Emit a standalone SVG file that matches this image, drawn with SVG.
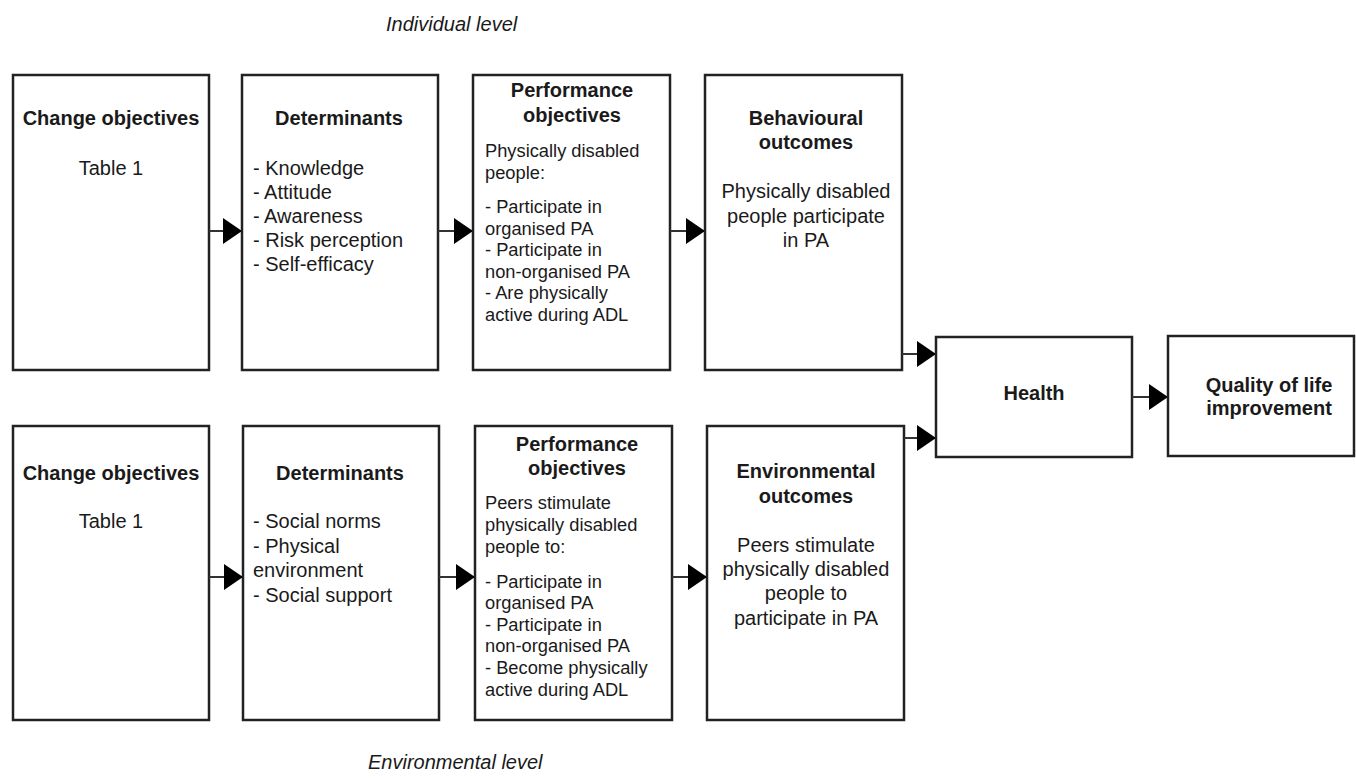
<svg xmlns="http://www.w3.org/2000/svg" width="1356" height="778" viewBox="0 0 1356 778">
<style>
.box{fill:#fff;stroke:#222;stroke-width:2.5}
.t{font-family:"Liberation Sans",Arial,sans-serif;fill:#1a1a1a}
.b{font-weight:bold;font-size:20px}
.r{font-size:20px}
.s{font-size:18.3px}
.c{text-anchor:middle}
.i{font-style:italic;font-size:20px}
.con line{stroke:#333;stroke-width:2}
</style>
<defs>
<marker id="ah" viewBox="0 0 19 26" refX="19" refY="13" markerWidth="19" markerHeight="26" markerUnits="userSpaceOnUse" orient="auto">
<path d="M0,0 L19,13 L0,26 z" fill="#000"/>
</marker>
</defs>
<rect width="1356" height="778" fill="#fff"/>
<text class="t i" x="386" y="31">Individual level</text>
<text class="t i" x="368" y="769">Environmental level</text>

<g id="co1">
<rect class="box" x="13" y="75" width="196" height="295"/>
<text class="t b c" x="111" y="125">Change objectives</text>
<text class="t r c" x="111" y="175">Table 1</text>
</g>
<g id="det1">
<rect class="box" x="242" y="75" width="196" height="295"/>
<text class="t b c" x="339" y="125">Determinants</text>
<text class="t r" x="253" y="175">- Knowledge</text>
<text class="t r" x="253" y="199">- Attitude</text>
<text class="t r" x="253" y="223">- Awareness</text>
<text class="t r" x="253" y="247">- Risk perception</text>
<text class="t r" x="253" y="271">- Self-efficacy</text>
</g>
<g id="po1">
<rect class="box" x="473" y="75" width="197" height="295"/>
<text class="t b c" x="572" y="97">Performance</text>
<text class="t b c" x="572" y="122">objectives</text>
<text class="t s" x="485" y="157">Physically disabled</text>
<text class="t s" x="485" y="178.5">people:</text>
<text class="t s" x="485" y="213">- Participate in</text>
<text class="t s" x="485" y="234.5">organised PA</text>
<text class="t s" x="485" y="256">- Participate in</text>
<text class="t s" x="485" y="277.5">non-organised PA</text>
<text class="t s" x="485" y="299">- Are physically</text>
<text class="t s" x="485" y="320.5">active during ADL</text>
</g>
<g id="bo1">
<rect class="box" x="705" y="75" width="197" height="295"/>
<text class="t b c" x="806" y="125">Behavioural</text>
<text class="t b c" x="806" y="149">outcomes</text>
<text class="t r c" x="806" y="198">Physically disabled</text>
<text class="t r c" x="806" y="222.5">people participate</text>
<text class="t r c" x="806" y="247">in PA</text>
</g>

<g id="co2">
<rect class="box" x="13" y="426" width="196" height="294"/>
<text class="t b c" x="111" y="480">Change objectives</text>
<text class="t r c" x="111" y="528">Table 1</text>
</g>
<g id="det2">
<rect class="box" x="243" y="426" width="196" height="294"/>
<text class="t b c" x="340" y="480">Determinants</text>
<text class="t r" x="253" y="528">- Social norms</text>
<text class="t r" x="253" y="553">- Physical</text>
<text class="t r" x="253" y="577">environment</text>
<text class="t r" x="253" y="602">- Social support</text>
</g>
<g id="po2">
<rect class="box" x="475" y="426" width="197" height="294"/>
<text class="t b c" x="577" y="451">Performance</text>
<text class="t b c" x="577" y="475">objectives</text>
<text class="t s" x="485" y="509">Peers stimulate</text>
<text class="t s" x="485" y="531">physically disabled</text>
<text class="t s" x="485" y="553">people to:</text>
<text class="t s" x="485" y="587.5">- Participate in</text>
<text class="t s" x="485" y="609">organised PA</text>
<text class="t s" x="485" y="630.5">- Participate in</text>
<text class="t s" x="485" y="652">non-organised PA</text>
<text class="t s" x="485" y="674">- Become physically</text>
<text class="t s" x="485" y="696">active during ADL</text>
</g>
<g id="eo2">
<rect class="box" x="707" y="426" width="197" height="294"/>
<text class="t b c" x="806" y="478">Environmental</text>
<text class="t b c" x="806" y="503">outcomes</text>
<text class="t r c" x="806" y="552">Peers stimulate</text>
<text class="t r c" x="806" y="576">physically disabled</text>
<text class="t r c" x="806" y="600">people to</text>
<text class="t r c" x="806" y="625">participate in PA</text>
</g>

<g id="health">
<rect class="box" x="936" y="337" width="196" height="120"/>
<text class="t b c" x="1034" y="400">Health</text>
</g>
<g id="qol">
<rect class="box" x="1168" y="336" width="186" height="120"/>
<text class="t b c" x="1269" y="392">Quality of life</text>
<text class="t b c" x="1269" y="415">improvement</text>
</g>

<g id="connectors" class="con">
<line x1="209" y1="231" x2="242" y2="231" marker-end="url(#ah)"/>
<line x1="438" y1="231" x2="473" y2="231" marker-end="url(#ah)"/>
<line x1="670" y1="231" x2="705" y2="231" marker-end="url(#ah)"/>
<line x1="902" y1="354" x2="936" y2="354" marker-end="url(#ah)"/>
<line x1="209" y1="577" x2="243" y2="577" marker-end="url(#ah)"/>
<line x1="439" y1="577" x2="475" y2="577" marker-end="url(#ah)"/>
<line x1="672" y1="577" x2="707" y2="577" marker-end="url(#ah)"/>
<line x1="904" y1="438" x2="936" y2="438" marker-end="url(#ah)"/>
<line x1="1132" y1="397" x2="1168" y2="397" marker-end="url(#ah)"/>
</g>
</svg>
